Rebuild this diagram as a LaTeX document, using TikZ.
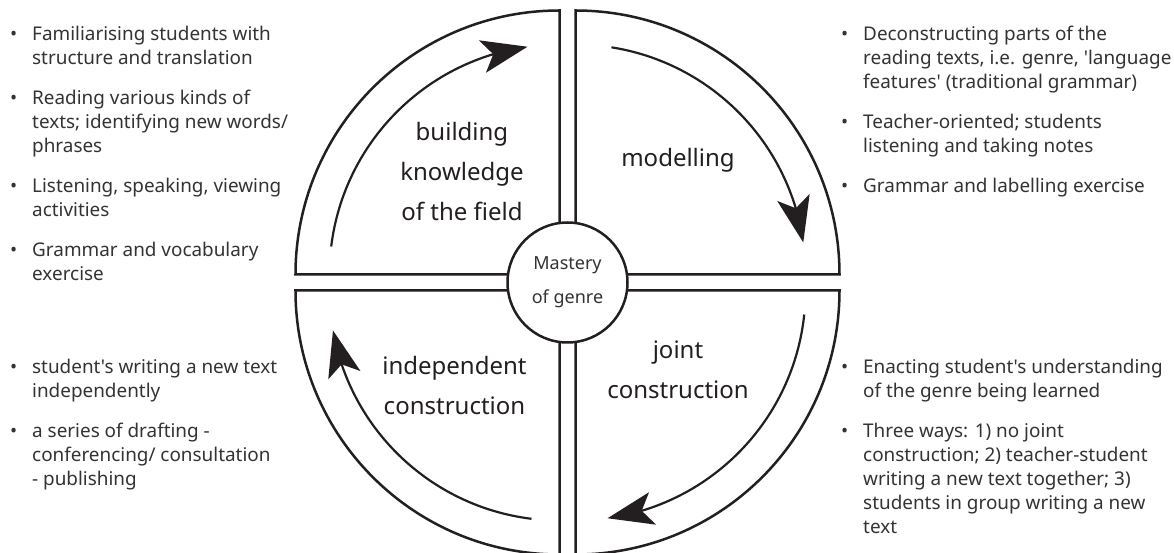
\documentclass[tikz,border=0pt]{standalone}
\usepackage{fontspec}
\setmainfont{Noto Sans}[Ligatures=TeXOff]
\usetikzlibrary{arrows.meta, bending}

\definecolor{ink}{HTML}{231F20}
\definecolor{txt}{HTML}{333333}
\newcommand{\notesfont}{\fontsize{18.9}{24}\selectfont}
\newcommand{\stagefont}{\fontsize{24}{40}\selectfont}
\newcommand{\corefont}{\fontsize{18}{34}\selectfont}

\begin{document}
\begin{tikzpicture}[x=1pt, y=1pt]

    % estilos
    \tikzstyle{quadrant}=[draw=ink, line width=2.5pt, fill=white]
    \tikzstyle{cyclearrow}=[draw=ink, line width=2.2pt, -{Stealth[length=46pt, width=33pt, inset=11pt]}]
    \tikzstyle{stage}=[align=center, font=\stagefont, text=ink]
    \tikzstyle{core}=[circle, draw=ink, line width=2.5pt, fill=white, minimum size=120pt, inner sep=0pt, align=center, font=\corefont, text=txt]
    \tikzstyle{notes}=[anchor=base west, inner sep=0pt, font=\notesfont, text=txt]

    \useasboundingbox (-567.5,-270.5) rectangle (606.5,282.5);

    %======================= CICLO =======================
    % quadrantes
    \draw[quadrant] (-8,8) -- ++(-264,0) arc[start angle=180, end angle=90, radius=264] -- cycle;
    \draw[quadrant] (8,8) -- ++(0,264) arc[start angle=90, end angle=0, radius=264] -- cycle;
    \draw[quadrant] (8,-8) -- ++(264,0) arc[start angle=0, end angle=-90, radius=264] -- cycle;
    \draw[quadrant] (-8,-8) -- ++(0,-264) arc[start angle=-90, end angle=-180, radius=264] -- cycle;

    % setas do ciclo
    \draw[cyclearrow] (-8,8) ++(173:230) arc[start angle=173, end angle=98, radius=230];
    \draw[cyclearrow] (8,8) ++(81:230) arc[start angle=81, end angle=8, radius=230];
    \draw[cyclearrow] (8,-8) ++(-6:230) arc[start angle=-6, end angle=-82, radius=230];
    \draw[cyclearrow] (-8,-8) ++(-97:230) arc[start angle=-97, end angle=-170, radius=230];

    % etapas
    \node[stage] (bkf) at (-105.5,110.5) {building\\knowledge\\of the field};
    \node[stage] (mod) at (110.5,122.5) {modelling};
    \node[stage] (jc)  at (110.5,-87.5) {joint\\construction};
    \node[stage] (ic)  at (-113,-103.5) {independent\\construction};

    % centro
    \node[core] (mg) at (0,0) {Mastery\\of genre};

    %======================= NOTAS =======================
    \node[notes] (bkfnotes) at (-557.5,241.5) {%
      \begin{tabular}[t]{@{}p{22pt}@{}l@{}}
        \textbullet & Familiarising students with\\
                    & structure and translation\\[16pt]
        \textbullet & Reading various kinds of\\
                    & texts; identifying new words/\\
                    & phrases\\[16pt]
        \textbullet & Listening, speaking, viewing\\
                    & activities\\[16pt]
        \textbullet & Grammar and vocabulary\\
                    & exercise
      \end{tabular}};

    \node[notes] (modnotes) at (273.5,241.5) {%
      \begin{tabular}[t]{@{}p{22pt}@{}l@{}}
        \textbullet & Deconstructing parts of the\\
                    & reading texts, i.e. genre, 'language\\
                    & features' (traditional grammar)\\[16pt]
        \textbullet & Teacher-oriented; students\\
                    & listening and taking notes\\[16pt]
        \textbullet & Grammar and labelling exercise
      \end{tabular}};

    \node[notes] (icnotes) at (-557.5,-91.5) {%
      \begin{tabular}[t]{@{}p{22pt}@{}l@{}}
        \textbullet & student's writing a new text\\
                    & independently\\[16pt]
        \textbullet & a series of drafting -\\
                    & conferencing/ consultation\\
                    & - publishing
      \end{tabular}};

    \node[notes] (jcnotes) at (273.5,-91.5) {%
      \begin{tabular}[t]{@{}p{22pt}@{}l@{}}
        \textbullet & Enacting student's understanding\\
                    & of the genre being learned\\[16pt]
        \textbullet & Three ways: 1) no joint\\
                    & construction; 2) teacher-student\\
                    & writing a new text together; 3)\\
                    & students in group writing a new\\
                    & text
      \end{tabular}};

\end{tikzpicture}
\end{document}
